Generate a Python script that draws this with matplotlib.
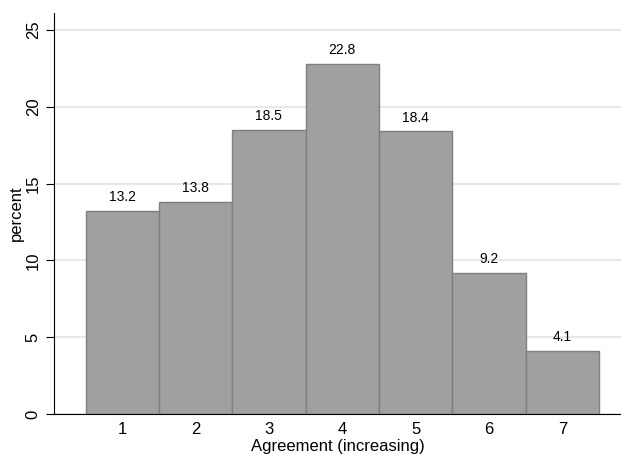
import matplotlib.pyplot as plt

plt.rcParams['font.family'] = ['Liberation Sans', 'DejaVu Sans']

# Data
categories = [1, 2, 3, 4, 5, 6, 7]
percent = [13.2, 13.8, 18.5, 22.8, 18.4, 9.2, 4.1]

fig = plt.figure(figsize=(6.21, 4.54), dpi=100)
ax = fig.add_axes([0.087, 0.088, 0.913, 0.883])

ax.bar(categories, percent, width=1.0, color='#a0a0a0',
       edgecolor='#7f7f7f', linewidth=1.0, zorder=2)
for x, v in zip(categories, percent):
    ax.text(x, v + 0.45, f"{v:.1f}", ha='center', va='bottom', fontsize=10)

ax.set_xlim(0.07, 7.8)
ax.set_ylim(0, 26.1)
ax.set_yticks([0, 5, 10, 15, 20, 25])
ax.set_xticks(categories)
ax.grid(axis='y', color='#e4e4e4', linewidth=1.2, zorder=0)
ax.set_axisbelow(True)

for s in ['top', 'right']:
    ax.spines[s].set_visible(False)
ax.tick_params(axis='y', labelrotation=90, labelsize=12, length=6)
ax.tick_params(axis='x', labelsize=12, length=4, pad=1.5, color='white')
for lbl in ax.get_yticklabels():
    lbl.set_va('center')

ax.set_ylabel('percent', fontsize=12)
ax.yaxis.set_label_coords(-0.053, 0.5)
ax.set_xlabel('Agreement (increasing)', fontsize=12)
ax.xaxis.set_label_coords(0.5, -0.062)

fig.savefig('out.png', dpi=100)
